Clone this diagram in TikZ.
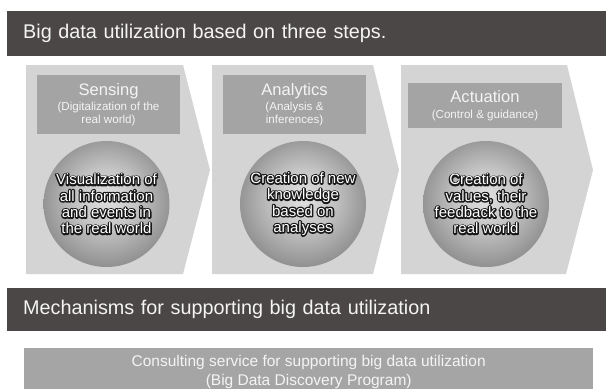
\documentclass[tikz,border=0pt]{standalone}
\usepackage{fontspec}
\setmainfont{Liberation Sans}
\definecolor{barc}{HTML}{4B4746}
\definecolor{chevc}{HTML}{D4D4D4}
\definecolor{hdrc}{HTML}{A4A4A4}
\definecolor{consc}{HTML}{A5A5A5}
\definecolor{lighttext}{HTML}{F4F4F4}
\definecolor{ballA}{HTML}{E2E2E2}
\definecolor{ballB}{HTML}{C4C4C4}
\definecolor{ballC}{HTML}{8E8E8E}
\pgfdeclareradialshading{ballshade}{\pgfpoint{0bp}{3bp}}{color(0bp)=(ballA); color(12bp)=(ballB); color(27bp)=(ballC); color(50bp)=(ballC)}
\newcommand\olt[1]{\leavevmode\rlap{\special{pdf:literal direct 1 Tr 2.8 w 1 j 0.1 0.1 0.1 RG}#1\special{pdf:literal direct 0 Tr}}#1}
\tikzset{
  barbox/.style={fill=barc, text=lighttext, font=\fontsize{19.8}{24}\selectfont, anchor=north west,
    inner xsep=16pt, inner ysep=0pt, text width=567pt, align=left, minimum width=599pt},
  chev/.style={fill=chevc},
  hdr/.style={fill=hdrc, text=lighttext, font=\fontsize{11.6}{13.5}\selectfont, align=center, inner sep=0pt},
  ballnode/.style={circle, shade, shading=ballshade, minimum size=126pt, inner sep=0pt, text=white,
    font=\fontsize{15}{16.3}\selectfont, align=center},
  consbox/.style={fill=consc, text=lighttext, font=\fontsize{15.5}{19}\selectfont, align=center, inner sep=0pt,
    anchor=north west, minimum width=569pt, minimum height=41pt}
}
\begin{document}
\begin{tikzpicture}[x=1pt,y=-1pt]
\useasboundingbox[fill=white] (0,0) rectangle (606,389);
% title bar
\node[barbox, minimum height=44.7pt] (title) at (7,11) {Big data utilization based on three steps.};
% chevrons
\fill[chev] (26,65) -- (183,65) -- (210,170) -- (183,274) -- (26,274) -- cycle;
\fill[chev] (212,65) -- (373,65) -- (399,170) -- (373,274) -- (212,274) -- cycle;
\fill[chev] (401,65) -- (567,65) -- (593,170) -- (566,274) -- (401,274) -- cycle;
% header boxes
\node[hdr, minimum width=143pt, minimum height=59pt] (sens) at (108.5,104.5)
  {{\fontsize{16.6}{18}\selectfont Sensing}\\[1.5pt](Digitalization of the\\real world)};
\node[hdr, minimum width=143pt, minimum height=59pt] (anal) at (294.5,104.5)
  {{\fontsize{16.6}{18}\selectfont Analytics}\\[1.5pt](Analysis \&\\inferences)};
\node[hdr, minimum width=154pt, minimum height=45pt] (act) at (485,105.5)
  {{\fontsize{16.6}{18}\selectfont Actuation}\\[2.5pt](Control \& guidance)};
% circles
\node[ballnode] (c1) at (106.5,204) {\olt{Visualization of}\\\olt{all information}\\\olt{and events in}\\\olt{the real world}};
\node[ballnode] (c2) at (303,204) {\olt{Creation of new}\\\olt{knowledge}\\\olt{based on}\\\olt{analyses}};
\node[ballnode] (c3) at (486,204) {\olt{Creation of}\\\olt{values, their}\\\olt{feedback to the}\\\olt{real world}};
% mechanisms bar
\node[barbox, minimum height=43pt] (mech) at (7,288) {Mechanisms for supporting big data utilization};
% consulting box
\node[consbox] (cons) at (24,348) {\rule{0pt}{18.5pt}Consulting service for supporting big data utilization\\(Big Data Discovery Program)};
\end{tikzpicture}
\end{document}
